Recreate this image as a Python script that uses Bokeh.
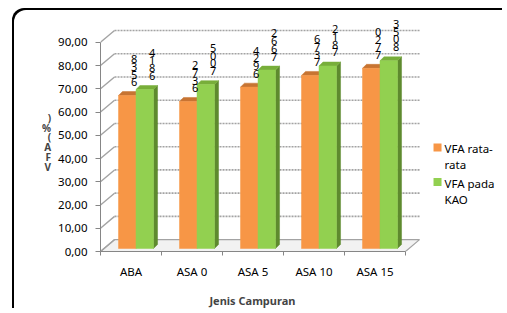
from bokeh.plotting import figure
from bokeh.models import FixedTicker, Range1d
from bokeh.core.properties import value
from bokeh.embed import file_html
from bokeh.resources import INLINE

# ---------------- data ----------------
categories = ["ABA", "ASA 0", "ASA 5", "ASA 10", "ASA 15"]
vfa_rata = [65.84, 63.27, 69.43, 74.47, 77.53]
vfa_kao = [68.42, 70.50, 76.77, 78.52, 80.75]
label_rata = ["8356", "2736", "4296", "6737", "0277"]
label_kao = ["4186", "5007", "2667", "2187", "3508"]
series_names = ["VFA rata-rata", "VFA pada KAO"]
y_ticks = [0, 10, 20, 30, 40, 50, 60, 70, 80, 90]
y_tick_labels = ["0,00", "10,00", "20,00", "30,00", "40,00", "50,00",
                 "60,00", "70,00", "80,00", "90,00"]
x_title = "Jenis Campuran"
y_title = "VFA (%)"

# ---------------- styling constants ----------------
FONT = "Noto Sans"
NBSP = "\u00a0"
ORANGE, ORANGE_TOP = "#F79646", "#C77432"
GREEN, GREEN_TOP, GREEN_SIDE = "#92D050", "#78AE3A", "#5E8A2E"
GRID = "#A3A3A3"
WALL_DX, WALL_DY = 0.23, 5.1      # perspective offset of the back wall
BAR_DX, BAR_DY = 0.066, 1.7       # bar depth
BASE = 1.3                         # bar floor level
BAR_W = 0.287
OFF_O, OFF_G = -0.5 + 0.295, -0.5 + 0.582

n = len(categories)
xs = list(range(n))

p = figure(width=490, height=300, x_range=Range1d(-0.5, 6.123),
           y_range=Range1d(0, 102.4), output_backend="svg",
           toolbar_location=None, min_border_left=86, min_border_top=3,
           min_border_bottom=57, min_border_right=0)
p.margin = (10, 0, 0, 14)
p.styles = {"box-shadow": "-2px -2px 0 0 #000",
            "border-top-left-radius": "12px"}
p.border_fill_color = None
p.background_fill_color = None
p.outline_line_color = None
p.xgrid.visible = False
p.ygrid.visible = False

# floor
fx = [-0.5, n - 0.5, n - 0.5 + WALL_DX, -0.5 + WALL_DX]
fy = [0, 0, WALL_DY, WALL_DY]
p.patch(fx, fy, fill_color="#F2F2F2", line_color=GRID, line_width=1.2)

# back wall grid lines + side-wall diagonals
gx0 = [-0.5 + WALL_DX] * (len(y_ticks) - 1)
gx1 = [n - 0.5 + WALL_DX] * (len(y_ticks) - 1)
gy = [t + WALL_DY for t in y_ticks[1:]]
p.segment(x0=gx0, y0=gy, x1=gx1, y1=gy, line_color=GRID, line_width=1.6,
          line_dash="2 1")
p.segment(x0=[-0.5] * len(y_ticks), y0=y_ticks,
          x1=[-0.5 + WALL_DX] * len(y_ticks), y1=[t + WALL_DY for t in y_ticks],
          line_color=GRID, line_width=1.4)

# bars
def draw_bars(vals, off, front, top, side):
    lefts = [x + off for x in xs]
    rights = [l + BAR_W for l in lefts]
    tops = [v + BASE for v in vals]
    if side is not None:
        p.patches([[r, r + BAR_DX, r + BAR_DX, r] for r in rights],
                  [[BASE, BASE + BAR_DY, t + BAR_DY, t] for t in tops],
                  fill_color=side, line_color=side, line_width=0.5)
    p.patches([[l, l + BAR_DX, r + BAR_DX, r] for l, r in zip(lefts, rights)],
              [[t, t + BAR_DY, t + BAR_DY, t] for t in tops],
              fill_color=top, line_color=top, line_width=0.5)
    p.quad(left=lefts, right=rights, bottom=[BASE] * n, top=tops,
           fill_color=front, line_color=front, line_width=0.5)
    return lefts, rights, tops

ol, orr, ot = draw_bars(vfa_rata, OFF_O, ORANGE, ORANGE_TOP, None)
gl, grr, gt = draw_bars(vfa_kao, OFF_G, GREEN, GREEN_TOP, GREEN_SIDE)

# data labels (wrapped, one character per line)
lab_x = [l + BAR_W / 2 + 0.115 for l in ol] + [l + BAR_W / 2 + 0.12 for l in gl]
lab_y = [t + 2.6 for t in ot] + [t + 2.8 for t in gt]
lab_t = ["\n".join(s) for s in label_rata] + ["\n".join(s) for s in label_kao]
p.text(x=lab_x, y=lab_y, text=lab_t, text_font=value(FONT),
       text_font_size="11px", text_align="center", text_baseline="bottom",
       text_line_height=0.52, text_color="#000000")

# legend (manual)
p.scatter(x=[5.025, 5.025], y=[44.8, 29.9], marker="square", size=8,
          fill_color=[ORANGE, GREEN], line_color=None)
leg_lines = ["VFA rata-", "rata", "VFA pada", "KAO"]
p.text(x=[5.14] * 4, y=[44.4, 37.5, 29.4, 22.2], text=leg_lines,
       text_font=value(FONT), text_font_size="11.5px", text_align="left",
       text_baseline="middle", text_color="#000000")

# axes
p.yaxis.ticker = FixedTicker(ticks=y_ticks)
p.yaxis.major_label_overrides = {t: s for t, s in zip(y_ticks, y_tick_labels)}
p.yaxis.bounds = (0, 90)
p.yaxis.minor_tick_line_color = None
p.yaxis.major_tick_out = 5
p.yaxis.major_tick_in = 0
p.yaxis.axis_line_color = "#868686"
p.yaxis.major_tick_line_color = "#868686"
p.yaxis.major_label_text_font = FONT
p.yaxis.major_label_text_font_size = "11.5px"
p.yaxis.major_label_text_color = "#000000"
p.yaxis.major_label_standoff = 8
p.yaxis.axis_label = "\n".join([NBSP, NBSP] + list(reversed(y_title.replace(" ", ""))))
p.yaxis.axis_label_orientation = "horizontal"
p.yaxis.axis_label_text_font = FONT
p.yaxis.axis_label_text_font_style = "bold"
p.yaxis.axis_label_text_font_size = "10px"
p.yaxis.axis_label_text_line_height = 0.7
p.yaxis.axis_label_standoff = 4

p.xaxis.ticker = FixedTicker(ticks=xs,
                             minor_ticks=[x - 0.5 for x in xs] + [n - 0.5])
p.xaxis.major_label_overrides = {x: c for x, c in zip(xs, categories)}
p.xaxis.bounds = (-0.5, n - 0.5)
p.xaxis.major_tick_line_color = None
p.xaxis.major_tick_out = 0
p.xaxis.major_tick_in = 0
p.xaxis.minor_tick_out = 4
p.xaxis.minor_tick_in = 0
p.xaxis.minor_tick_line_color = "#868686"
p.xaxis.axis_line_color = "#868686"
p.xaxis.major_label_text_font = FONT
p.xaxis.major_label_text_font_size = "11.5px"
p.xaxis.major_label_text_color = "#000000"
p.xaxis.major_label_standoff = 8
p.xaxis.axis_label = x_title + NBSP * 35
p.xaxis.axis_label_text_font = FONT
p.xaxis.axis_label_text_font_style = "bold"
p.xaxis.axis_label_text_font_size = "11px"
p.xaxis.axis_label_standoff = 11

open("out.html", "w").write(file_html(p, INLINE))
